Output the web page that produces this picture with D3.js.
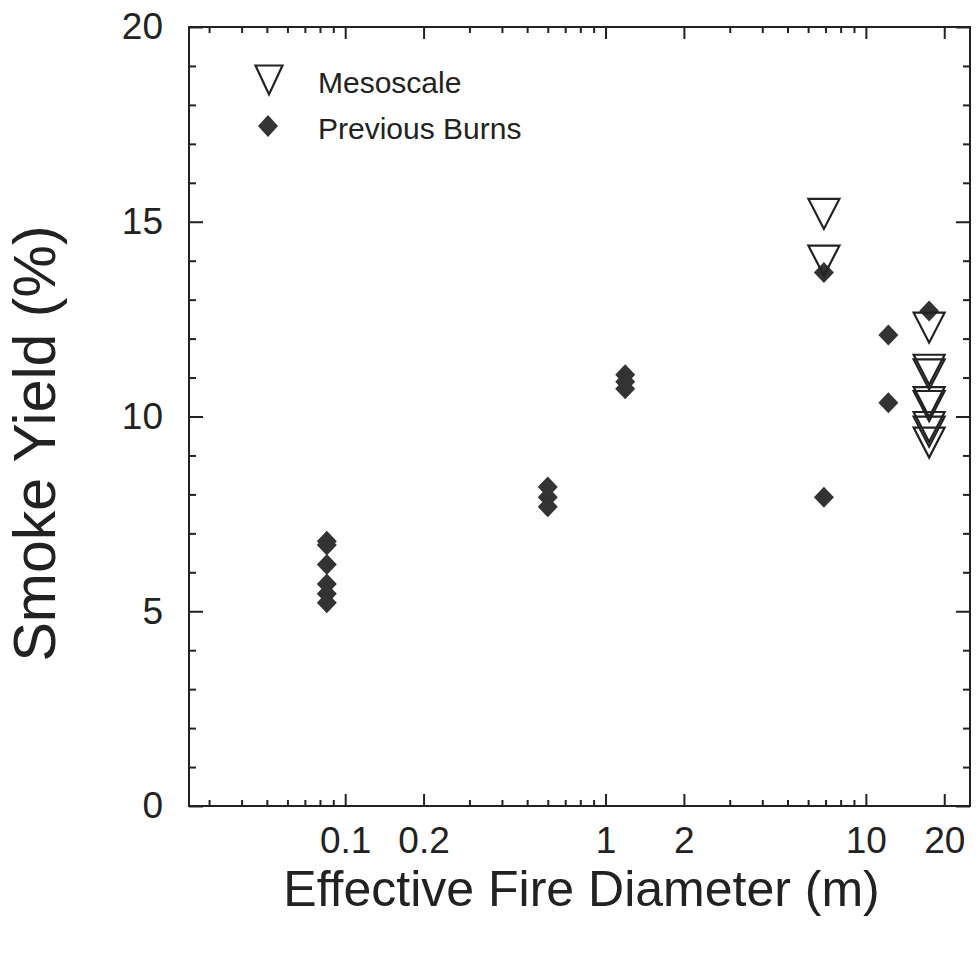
<!DOCTYPE html>
<html>
<head>
<meta charset="utf-8">
<script src="https://cdn.jsdelivr.net/npm/d3@7"></script>
<style>
  body { margin: 0; background: #fff; }
  text { font-family: "Liberation Sans", Arial, Helvetica, sans-serif; fill: #222; }
</style>
</head>
<body>
<div id="chart"></div>
<script>
// Mesoscale burns (open triangles)
const mesoDiameter = [6.9, 6.9, 17.5, 17.5, 17.5, 17.5, 17.5, 17.5, 17.5, 17.5];
const mesoYield    = [15.2, 14.0, 12.28, 11.2, 11.08, 10.37, 10.27, 9.73, 9.61, 9.33];

// Previous burns (filled diamonds)
const prevDiameter = [0.085, 0.085, 0.085, 0.085, 0.085, 0.085,
                      0.6, 0.6, 0.6,
                      1.19, 1.19, 1.19,
                      6.9, 6.9, 12.2, 12.2, 17.5];
const prevYield    = [6.8, 6.7, 6.2, 5.7, 5.45, 5.22,
                      8.19, 7.93, 7.68,
                      11.07, 10.89, 10.71,
                      13.7, 7.93, 12.09, 10.35, 12.71];

const xTickValues = [0.1, 0.2, 1, 2, 10, 20];
const xTickLabels = ["0.1", "0.2", "1", "2", "10", "20"];
const yTickValues = [0, 5, 10, 15, 20];

const width = 976, height = 957;
const margin = { top: 27, right: 6, bottom: 151, left: 189 };

const svg = d3.select("#chart").append("svg")
    .attr("width", width)
    .attr("height", height);

const x = d3.scaleLog()
    .domain([Math.pow(10, -1.6), Math.pow(10, 1.4)])
    .range([margin.left, width - margin.right]);

const y = d3.scaleLinear()
    .domain([0, 20])
    .range([height - margin.bottom, margin.top]);

const x0 = x.range()[0], x1 = x.range()[1];
const y0 = y.range()[0], y1 = y.range()[1];

// minor ticks on the log axis: 2..9 of each decade, minus the labeled ones
const xMinor = [];
[0.01, 0.1, 1, 10].forEach(d => {
    for (let k = 2; k <= 9; k++) {
        const v = d * k;
        if (v >= x.domain()[0] && v <= x.domain()[1] && !xTickValues.some(t => Math.abs(t - v) < 1e-9)) xMinor.push(v);
    }
});
const yMinor = d3.range(0, 21).filter(v => v % 5 !== 0);

const ink = "#222";
const noDomain = g => g.select(".domain").remove();
const styleTicks = g => g.selectAll("line").attr("stroke", ink).attr("stroke-width", 2);

// bottom axis with labels
svg.append("g")
    .attr("transform", `translate(0,${y0})`)
    .call(d3.axisBottom(x).tickValues(xTickValues).tickFormat((d, i) => xTickLabels[i])
        .tickSizeInner(-12).tickSizeOuter(0).tickPadding(20))
    .call(noDomain).call(styleTicks)
    .call(g => g.selectAll("text").attr("font-size", 37).attr("fill", ink).attr("dy", "0.72em"));

svg.append("g")
    .attr("transform", `translate(0,${y0})`)
    .call(d3.axisBottom(x).tickValues(xMinor).tickFormat("").tickSizeInner(-6).tickSizeOuter(0))
    .call(noDomain).call(styleTicks);

// top axis
svg.append("g")
    .attr("transform", `translate(0,${y1})`)
    .call(d3.axisTop(x).tickValues(xTickValues).tickFormat("").tickSizeInner(-12).tickSizeOuter(0))
    .call(noDomain).call(styleTicks);
svg.append("g")
    .attr("transform", `translate(0,${y1})`)
    .call(d3.axisTop(x).tickValues(xMinor).tickFormat("").tickSizeInner(-6).tickSizeOuter(0))
    .call(noDomain).call(styleTicks);

// left axis with labels
svg.append("g")
    .attr("transform", `translate(${x0},0)`)
    .call(d3.axisLeft(y).tickValues(yTickValues).tickSizeInner(-14).tickSizeOuter(0).tickPadding(26))
    .call(noDomain).call(styleTicks)
    .call(g => g.selectAll("text").attr("font-size", 37).attr("fill", ink));
svg.append("g")
    .attr("transform", `translate(${x0},0)`)
    .call(d3.axisLeft(y).tickValues(yMinor).tickFormat("").tickSizeInner(-7).tickSizeOuter(0))
    .call(noDomain).call(styleTicks);

// right axis
svg.append("g")
    .attr("transform", `translate(${x1},0)`)
    .call(d3.axisRight(y).tickValues(yTickValues).tickFormat("").tickSizeInner(-14).tickSizeOuter(0))
    .call(noDomain).call(styleTicks);
svg.append("g")
    .attr("transform", `translate(${x1},0)`)
    .call(d3.axisRight(y).tickValues(yMinor).tickFormat("").tickSizeInner(-7).tickSizeOuter(0))
    .call(noDomain).call(styleTicks);

// frame
svg.append("rect")
    .attr("x", x0).attr("y", y1)
    .attr("width", x1 - x0).attr("height", y0 - y1)
    .attr("fill", "none").attr("stroke", ink).attr("stroke-width", 2);

// marker shapes
const triDown = (w, h) => `M${-w / 2},${-h / 2}L${w / 2},${-h / 2}L0,${h / 2}Z`;
const diamond = (w, h) => `M0,${-h / 2}L${w / 2},0L0,${h / 2}L${-w / 2},0Z`;

// previous burns
svg.append("g").selectAll("path")
    .data(prevYield.map((v, i) => ({ d: prevDiameter[i], v })))
    .join("path")
    .attr("transform", p => `translate(${x(p.d)},${y(p.v)})`)
    .attr("d", diamond(20, 21))
    .attr("fill", "#333");

// mesoscale
svg.append("g").selectAll("path")
    .data(mesoYield.map((v, i) => ({ d: mesoDiameter[i], v })))
    .join("path")
    .attr("transform", p => `translate(${x(p.d)},${y(p.v)})`)
    .attr("d", triDown(31, 30))
    .attr("fill", "none")
    .attr("stroke", ink)
    .attr("stroke-width", 2.2)
    .attr("stroke-linejoin", "miter");

// legend
const legend = svg.append("g");
legend.append("path")
    .attr("transform", "translate(269,80)")
    .attr("d", triDown(27, 29))
    .attr("fill", "none").attr("stroke", ink).attr("stroke-width", 2.2);
legend.append("text")
    .attr("x", 318).attr("y", 93)
    .attr("font-size", 30)
    .text("Mesoscale");
legend.append("path")
    .attr("transform", "translate(268,126)")
    .attr("d", diamond(20, 22))
    .attr("fill", "#333");
legend.append("text")
    .attr("x", 318).attr("y", 139)
    .attr("font-size", 30)
    .text("Previous Burns");

// axis titles
svg.append("text")
    .attr("x", (x0 + x1) / 2 + 2)
    .attr("y", 906)
    .attr("text-anchor", "middle")
    .attr("font-size", 50)
    .text("Effective Fire Diameter (m)");

svg.append("text")
    .attr("transform", `translate(55,${(y0 + y1) / 2 + 27}) rotate(-90)`)
    .attr("text-anchor", "middle")
    .attr("font-size", 59)
    .text("Smoke Yield (%)");
</script>
</body>
</html>
